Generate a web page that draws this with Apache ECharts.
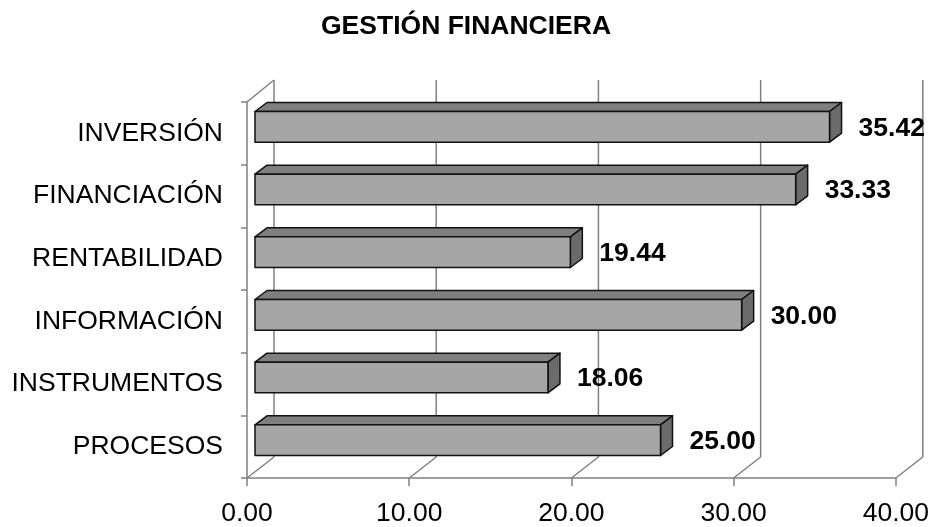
<!DOCTYPE html>
<html>
<head>
<meta charset="utf-8">
<title>Gestión financiera</title>
<script src="https://cdn.jsdelivr.net/npm/echarts@6/dist/echarts.min.js"></script>
<style>
  html, body { margin: 0; padding: 0; background: #fff; }
  #chart { width: 932px; height: 527px; }
</style>
</head>
<body>
<div id="chart"></div>
<script type="text/javascript">
// datos
var categories = ['INVERSIÓN', 'FINANCIACIÓN', 'RENTABILIDAD', 'INFORMACIÓN', 'INSTRUMENTOS', 'PROCESOS'];
var values = [35.42, 33.33, 19.44, 30.00, 18.06, 25.00];
var xTicks = [0, 10, 20, 30, 40];

var FONT = 'Liberation Sans, Arial, sans-serif';
var FONT_SIZE = 26.5;
var GRID_COLOR = '#808080';
// profundidad de la caja 3D
var DEPTH_X = 27, DEPTH_Y = -21;

var chart = echarts.init(document.getElementById('chart'));

// paredes del fondo y suelo
function renderFrame(params, api) {
    var v = api.value(0);
    var cs = params.coordSys;
    var bottom = cs.y + cs.height;
    var x = api.coord([v, 0])[0];
    var children = [
        { type: 'line', shape: { x1: x, y1: bottom, x2: x + DEPTH_X, y2: bottom + DEPTH_Y } },
        { type: 'line', shape: { x1: x + DEPTH_X, y1: bottom + DEPTH_Y, x2: x + DEPTH_X, y2: cs.y - 22 } }
    ];
    if (params.dataIndex === 0) {
        children.push({ type: 'line', shape: { x1: x, y1: cs.y, x2: x + DEPTH_X, y2: cs.y - 22 } });
    }
    children.forEach(function (c) {
        c.style = { stroke: GRID_COLOR, lineWidth: 1.5 };
    });
    return { type: 'group', children: children };
}

// barras con caras frontal, superior y lateral
function renderBar(params, api) {
    var v = api.value(0);
    var i = api.value(1);
    var p0 = api.coord([0, i]);
    var p1 = api.coord([v, i]);
    var band = api.size([0, 1])[1];
    var h = band * 0.49;
    var dx = 12, dy = -9;
    var xL = p0[0] + 8, xR = p1[0] + 8;
    var yc = p0[1] - 6.5;
    var yT = yc - h / 2, yB = yc + h / 2;
    var line = { stroke: '#111', lineWidth: 1.5, lineJoin: 'round' };
    return {
        type: 'group',
        children: [
            {
                type: 'polygon',
                shape: { points: [[xL, yT], [xR, yT], [xR + dx, yT + dy], [xL + dx, yT + dy]] },
                style: Object.assign({ fill: '#7f7f7f' }, line)
            },
            {
                type: 'polygon',
                shape: { points: [[xR, yT], [xR + dx, yT + dy], [xR + dx, yB + dy], [xR, yB]] },
                style: Object.assign({ fill: '#6b6b6b' }, line)
            },
            {
                type: 'rect',
                shape: { x: xL, y: yT, width: xR - xL, height: h },
                style: Object.assign({ fill: '#a6a6a6' }, line)
            },
            {
                type: 'text',
                style: {
                    text: v.toFixed(2),
                    x: xR + dx + 17,
                    y: yc + 1.5,
                    verticalAlign: 'middle',
                    font: 'bold ' + FONT_SIZE + 'px ' + FONT,
                    fill: '#000'
                }
            }
        ]
    };
}

var option = {
    animation: false,
    title: {
        text: 'GESTIÓN FINANCIERA',
        left: 316,
        top: 8,
        textStyle: { fontFamily: FONT, fontSize: FONT_SIZE, fontWeight: 'bold', color: '#000' }
    },
    grid: {
        left: 247,
        right: 35,
        top: 102,
        bottom: 43
    },
    xAxis: {
        type: 'value',
        min: 0,
        max: 40,
        interval: 10,
        axisLine: { show: true, lineStyle: { color: GRID_COLOR, width: 1.5 } },
        axisTick: { show: true, length: 8, lineStyle: { color: GRID_COLOR, width: 1.5 } },
        splitLine: { show: false },
        axisLabel: {
            margin: 22,
            fontFamily: FONT,
            fontSize: FONT_SIZE,
            color: '#000',
            formatter: function (v) { return v.toFixed(2); }
        }
    },
    yAxis: {
        type: 'category',
        data: categories,
        inverse: true,
        axisLine: { show: true, lineStyle: { color: GRID_COLOR, width: 1.5 } },
        axisTick: { show: true, length: 6, lineStyle: { color: GRID_COLOR, width: 1.5 } },
        axisLabel: {
            margin: 24,
            fontFamily: FONT,
            fontSize: FONT_SIZE,
            color: '#000'
        }
    },
    series: [
        {
            type: 'custom',
            name: 'marco',
            renderItem: renderFrame,
            data: xTicks.map(function (t) { return [t, 0]; }),
            encode: { x: 0, y: 1 },
            clip: false,
            silent: true,
            z: 1
        },
        {
            type: 'custom',
            name: 'Gestión financiera',
            renderItem: renderBar,
            data: values.map(function (v, i) { return [v, i]; }),
            encode: { x: 0, y: 1 },
            clip: false,
            z: 2
        }
    ]
};

chart.setOption(option);
</script>
</body>
</html>
